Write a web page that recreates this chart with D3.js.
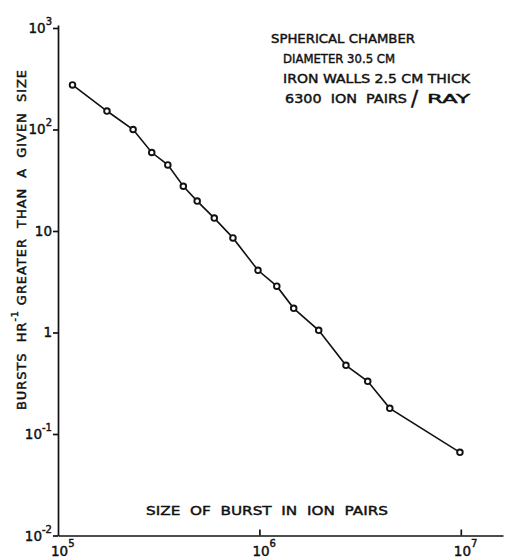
<!DOCTYPE html>
<html>
<head>
<meta charset="utf-8">
<script src="https://cdn.jsdelivr.net/npm/d3@7"></script>
<style>
  html, body { margin: 0; padding: 0; background: #fff; }
  svg text { font-family: "DejaVu Sans", sans-serif; fill: #111; white-space: pre; stroke: #111; stroke-width: 0.45px; }
</style>
</head>
<body>
<svg id="chart" width="513" height="558"></svg>
<script>
// ---- data ----
const burstSize = [1.18e5, 1.75e5, 2.36e5, 2.92e5, 3.51e5, 4.19e5, 4.91e5, 5.97e5, 7.39e5,
                   9.84e5, 1.22e6, 1.48e6, 1.97e6, 2.69e6, 3.45e6, 4.44e6, 9.9e6];
const burstRate = [275, 152, 100, 59.3, 44.8, 27.6, 19.7, 13.4, 8.55,
                   4.10, 2.86, 1.73, 1.05, 0.475, 0.330, 0.179, 0.066];

const yTicks    = [1e3, 1e2, 10, 1, 0.1, 0.01];
const yTickBase = ["10", "10", "10", "1", "10", "10"];
const yTickExp  = ["3", "2", "", "", "-1", "-2"];

const xTicks    = [1e5, 1e6, 1e7];
const xTickBase = ["10", "10", "10"];
const xTickExp  = ["5", "6", "7"];

const legendLines = ["SPHERICAL CHAMBER", "DIAMETER 30.5 CM", "IRON WALLS 2.5 CM THICK", "6300  ION  PAIRS"];
const legendTail = "RAY";
const xTitle = "SIZE  OF  BURST  IN  ION  PAIRS";
const yTitleA = "BURSTS  HR";
const yTitleExp = "-1";
const yTitleB = " GREATER  THAN  A  GIVEN  SIZE";

// ---- scales ----
const svg = d3.select("#chart");
const x = d3.scaleLog().domain([1e5, 1.62e7]).range([58, 503]);
const y = d3.scaleLog().domain([0.01, 1070]).range([535.5, 25]);

// ---- axes ----
const xAxis = d3.axisBottom(x).tickValues(xTicks.slice(1)).tickFormat(() => "").tickSizeInner(-6).tickSizeOuter(0);
const gx = svg.append("g").attr("transform", `translate(0,${y(0.01)})`).call(xAxis);
gx.selectAll("path, line").attr("stroke", "#111").attr("stroke-width", 1.7);

const yAxis = d3.axisLeft(y).tickValues(yTicks).tickFormat(() => "").tickSizeInner(5).tickSizeOuter(0);
const gy = svg.append("g").attr("transform", `translate(${x(1e5)},0)`).call(yAxis);
gy.selectAll("path, line").attr("stroke", "#111").attr("stroke-width", 1.7);

// y tick labels with superscripts
yTicks.forEach((v, i) => {
  const t = svg.append("text")
    .attr("x", x(1e5) - 6)
    .attr("y", y(v) + 5)
    .attr("text-anchor", "end")
    .attr("font-size", 13.5);
  t.append("tspan").text(yTickBase[i]);
  if (yTickExp[i]) {
    t.append("tspan").attr("dy", -8).attr("font-size", 10).text(yTickExp[i]);
  }
});

// x tick labels with superscripts
xTicks.forEach((v, i) => {
  const t = svg.append("text")
    .attr("x", x(v) - 7)
    .attr("y", 556)
    .attr("font-size", 13.5);
  t.append("tspan").text(xTickBase[i]);
  t.append("tspan").attr("dy", -9).attr("font-size", 10).text(xTickExp[i]);
});

// ---- line and points ----
const pts = burstSize.map((s, i) => [s, burstRate[i]]);
svg.append("path")
  .datum(pts)
  .attr("fill", "none")
  .attr("stroke", "#111")
  .attr("stroke-width", 1.6)
  .attr("d", d3.line().x(d => x(d[0])).y(d => y(d[1])));

svg.selectAll("circle.pt")
  .data(pts)
  .join("circle")
  .attr("class", "pt")
  .attr("cx", d => x(d[0]))
  .attr("cy", d => y(d[1]))
  .attr("r", 2.8)
  .attr("fill", "#fff")
  .attr("stroke", "#111")
  .attr("stroke-width", 1.9);

// ---- annotation block ----
const legendX = [271, 283, 283, 285];
const legendY = [43, 63, 83, 103];
const legendW = [144, 112, 187, 122];
legendLines.forEach((s, i) => {
  svg.append("text")
    .attr("x", legendX[i]).attr("y", legendY[i])
    .attr("font-size", 13)
    .attr("textLength", legendW[i])
    .attr("lengthAdjust", "spacingAndGlyphs")
    .text(s);
});
// the big slash and "RAY"
svg.append("text")
  .attr("x", 411).attr("y", legendY[3] + 3)
  .attr("font-size", 21)
  .text("/");
svg.append("text")
  .attr("x", 427).attr("y", legendY[3])
  .attr("font-size", 13)
  .attr("textLength", 43)
  .attr("lengthAdjust", "spacingAndGlyphs")
  .text(legendTail);

// ---- axis titles ----
svg.append("text")
  .attr("x", 146).attr("y", 515)
  .attr("font-size", 13)
  .attr("textLength", 242)
  .attr("lengthAdjust", "spacingAndGlyphs")
  .text(xTitle);

const yt = svg.append("text")
  .attr("transform", "translate(26,410) rotate(-90)")
  .attr("font-size", 13)
  .attr("textLength", 340)
  .attr("lengthAdjust", "spacing");
yt.append("tspan").text(yTitleA);
yt.append("tspan").attr("dy", -8).attr("font-size", 9.5).text(yTitleExp);
yt.append("tspan").attr("dy", 8).text(yTitleB);
</script>
</body>
</html>
